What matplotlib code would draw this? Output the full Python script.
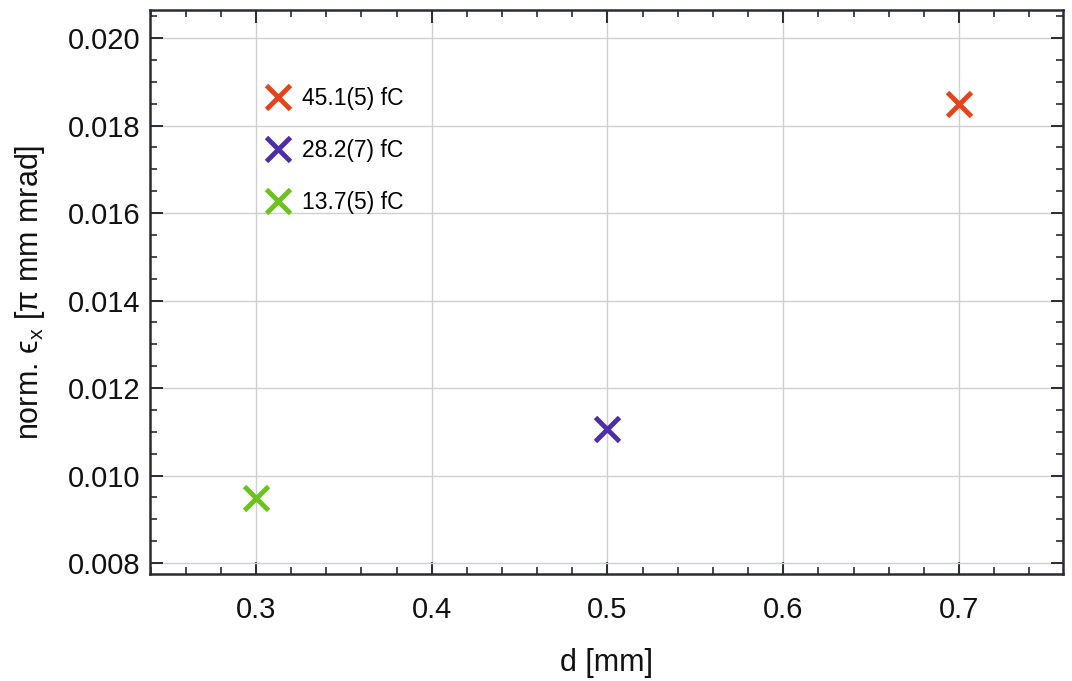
import matplotlib
matplotlib.use("Agg")
import matplotlib.pyplot as plt
from matplotlib.ticker import MultipleLocator, FormatStrFormatter

plt.rcParams['font.family'] = ['Liberation Sans', 'DejaVu Sans']
plt.rcParams['mathtext.fontset'] = 'custom'
plt.rcParams['mathtext.rm'] = 'Liberation Sans'
plt.rcParams['mathtext.it'] = 'Liberation Sans:italic'

labels = ["45.1(5) fC", "28.2(7) fC", "13.7(5) fC"]
d_mm = [0.7, 0.5, 0.3]
emittance = [0.01849, 0.01106, 0.009486]
colors = ["#E5431A", "#4B2EA8", "#6BC41C"]

fig = plt.figure(figsize=(10.72, 6.81), dpi=100)
ax = fig.add_axes([150/1072, 1-574/681, (1063-150)/1072, (574-10)/681])

for x, y, c, lab in zip(d_mm, emittance, colors, labels):
    ax.plot([x], [y], linestyle='none', marker='x', markersize=17,
            markeredgewidth=3.5, color=c, label=lab)

ax.set_xlim(0.2397, 0.7592)
ax.set_ylim(0.00775, 0.02064)
ax.xaxis.set_major_locator(MultipleLocator(0.1))
ax.xaxis.set_minor_locator(MultipleLocator(0.02))
ax.yaxis.set_major_locator(MultipleLocator(0.002))
ax.yaxis.set_minor_locator(MultipleLocator(0.0005))
ax.xaxis.set_major_formatter(FormatStrFormatter('%.1f'))
ax.yaxis.set_major_formatter(FormatStrFormatter('%.3f'))

ax.grid(True, which='major', color='#d0d0d0', linewidth=1.0)
ax.tick_params(which='both', direction='in', top=True, right=True,
               color='#2a2a35', labelsize=21, labelcolor='#111111')
ax.tick_params(which='major', length=9, width=1.4)
ax.tick_params(which='minor', length=5, width=1.2)
ax.tick_params(axis='y', which='major', pad=7)
ax.tick_params(axis='x', which='major', pad=16)
for s in ax.spines.values():
    s.set_color('#2a2a35')
    s.set_linewidth(1.8)

ax.set_xlabel('d [mm]', fontsize=22, labelpad=17, color='#111111')
ax.set_ylabel('norm. ϵ$_{\\mathrm{x}}$ [π mm mrad]', fontsize=22, labelpad=15, color='#111111')

leg = ax.legend(loc='upper left', bbox_to_anchor=(0.1155, 0.884), frameon=False,
                fontsize=16.5, handlelength=1.0, handletextpad=0.55,
                labelspacing=1.26, borderpad=0)
for h in leg.legend_handles:
    h.set_markersize(17)

fig.savefig('out.png', dpi=100)
